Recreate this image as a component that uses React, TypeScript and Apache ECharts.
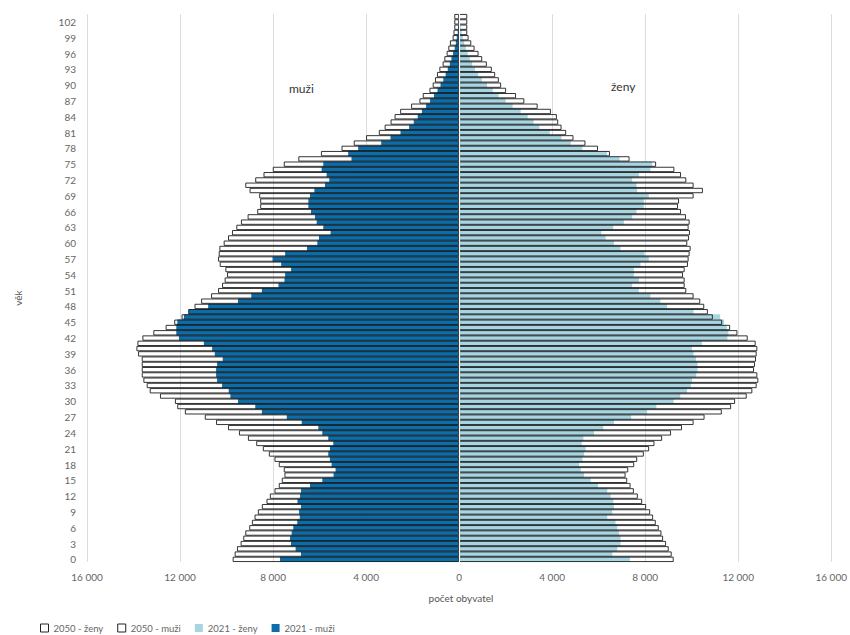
import React, { useEffect, useRef } from "react";
import * as echarts from "echarts";

// age categories 0..103 (labels shown every 3rd)
const ages: string[] = Array.from({ length: 104 }, (_, i) => String(i));

// 2050 projection - men (left)
const men2050: number[] = [
  9735, 9650, 9550, 9393, 9279, 9193, 9022, 8908, 8794, 8651,
  8480, 8280, 8137, 7937, 7752, 7624, 7509, 7538, 7752, 7937,
  8180, 8437, 8722, 9079, 9464, 9935, 10449, 10934, 11790, 12119,
  12218, 12861, 13303, 13431, 13574, 13645, 13645, 13645, 13645, 13802,
  13874, 13831, 13617, 13146, 12618, 12247, 11933, 11648, 11376, 11091,
  10663, 10363, 10192, 10080, 9978, 10050, 10292, 10363, 10335, 10306,
  10121, 9935, 9764, 9579, 9379, 9093, 8679, 8551, 8551, 8594,
  9008, 9193, 8765, 8409, 8009, 7538, 6910, 5940, 5055, 4530,
  4000, 3450, 3200, 2945, 2773, 2534, 2063, 1704, 1562, 1275,
  1134, 1036, 950, 848, 706, 633, 535, 462, 393, 278,
  240, 205, 205, 205,
];

// 2021 - men (left)
const men2021: number[] = [
  7700, 6800, 7030, 7230, 7270, 7200, 7130, 6960, 6850, 6880,
  6800, 6950, 6839, 6796, 6411, 5883, 5398, 5312, 5483, 5555,
  5626, 5555, 5412, 5626, 5883, 6054, 6767, 7410, 8480, 8765,
  9507, 9835, 9907, 10192, 10406, 10449, 10449, 10406, 10164, 10506,
  10620, 10977, 12047, 12161, 12161, 12119, 11833, 11619, 10791, 9507,
  8936, 8480, 7766, 7509, 7481, 7224, 7652, 8023, 7481, 6539,
  6097, 6025, 5526, 5840, 6125, 6197, 6368, 6482, 6482, 6411,
  6225, 5768, 5583, 5697, 5911, 5840, 4627, 4770, 4341, 3350,
  2950, 2520, 2150, 1950, 1780, 1600, 1420, 1250, 1080, 930,
  800, 680, 580, 490, 400, 330, 260, 190, 140, 100,
  60, 40, 20, 10,
];

// 2050 projection - women (right)
const women2050: number[] = [
  9225, 9139, 9011, 8897, 8769, 8697, 8583, 8455, 8340, 8212,
  8041, 7870, 7684, 7513, 7370, 7227, 7156, 7270, 7527, 7656,
  7941, 8169, 8398, 8726, 9111, 9582, 10081, 10552, 11294, 11694,
  11865, 12364, 12607, 12793, 12864, 12821, 12679, 12721, 12764, 12793,
  12821, 12750, 12407, 11965, 11651, 11309, 10909, 10695, 10538, 10367,
  10081, 9767, 9696, 9696, 9625, 9696, 9839, 9867, 9910, 9953,
  9810, 9882, 9924, 9867, 9910, 9753, 9540, 9411, 9454, 10081,
  10481, 10081, 9767, 9540, 9254, 8469, 7327, 6485, 5971, 5430,
  4916, 4602, 4402, 4259, 4202, 3945, 3375, 2804, 2447, 2019,
  1805, 1705, 1548, 1405, 1191, 991, 834, 663, 521, 406,
  349, 349, 349, 349,
];

// 2021 - women (right)
const women2021: number[] = [
  7342, 6585, 6799, 6942, 6942, 6870, 6799, 6728, 6371, 6585,
  6657, 6628, 6514, 6371, 5972, 5658, 5372, 5230, 5158, 5301,
  5372, 5444, 5272, 5344, 5800, 6200, 6657, 7399, 8084, 8483,
  9225, 9510, 9796, 9967, 10010, 10196, 10253, 10253, 10181, 10081,
  10010, 10438, 11537, 11580, 11508, 11394, 11223, 10081, 8940, 8654,
  8226, 7727, 7441, 7727, 7513, 7513, 7798, 8155, 7969, 6942,
  6657, 6300, 6114, 6628, 7084, 7441, 7627, 7941, 7941, 8155,
  7655, 7627, 7441, 7727, 8226, 8300, 6900, 6350, 5301, 4800,
  4400, 3900, 3450, 3200, 2950, 2650, 2300, 2000, 1700, 1450,
  1200, 980, 820, 680, 560, 460, 370, 290, 220, 160,
  110, 70, 40, 20,
];

const seriesNames = ["2050 - ženy", "2050 - muži", "2021 - ženy", "2021 - muži"];

const DARK = "#0c6dab";
const LIGHT = "#a7d6e2";
const OUTLINE = "#1e1e1e";
const FONT = "Lato, 'Open Sans', sans-serif";

const fmt = (v: number) =>
  String(Math.abs(v)).replace(/\B(?=(\d{3})+(?!\d))/g, " ");

export default function App() {
  const ref = useRef<HTMLDivElement>(null);

  useEffect(() => {
    if (!ref.current) return;
    const chart = echarts.init(ref.current, undefined, { renderer: "svg" });
    const outlineStyle = {
      color: "rgba(255,255,255,0)",
      borderColor: OUTLINE,
      borderWidth: 0.9,
    };
    chart.setOption({
      animation: false,
      backgroundColor: "#ffffff",
      textStyle: { fontFamily: FONT },
      grid: { left: 87, right: 14, top: 14, bottom: 73 },
      xAxis: {
        type: "value",
        min: -16000,
        max: 16000,
        interval: 4000,
        axisLine: { show: false },
        axisTick: { show: false },
        axisLabel: {
          formatter: (v: number) => fmt(v),
          color: "#666",
          fontSize: 10,
          fontFamily: FONT,
          margin: 10,
          showMinLabel: true,
          showMaxLabel: true,
        },
        splitLine: { show: true, lineStyle: { color: "#dcdcdc", width: 1 } },
      },
      yAxis: {
        type: "category",
        data: ages,
        axisLine: { show: false, onZero: false },
        axisTick: { show: false },
        axisLabel: {
          interval: 2,
          color: "#666",
          fontSize: 10,
          fontFamily: FONT,
          margin: 11,
        },
        splitLine: { show: false },
      },
      legend: {
        left: 40,
        top: 623,
        padding: 0,
        itemWidth: 8,
        itemHeight: 8,
        itemGap: 14,
        icon: "rect",
        textStyle: { color: "#666", fontSize: 9.5, fontFamily: FONT },
        data: [
          { name: seriesNames[0], itemStyle: { color: "#fff", borderColor: "#222", borderWidth: 1 } },
          { name: seriesNames[1], itemStyle: { color: "#fff", borderColor: "#222", borderWidth: 1 } },
          { name: seriesNames[2], itemStyle: { color: LIGHT } },
          { name: seriesNames[3], itemStyle: { color: DARK } },
        ],
      },
      series: [
        {
          name: seriesNames[3],
          type: "bar",
          stack: "y2021",
          barGap: "-100%",
          barCategoryGap: "0%",
          itemStyle: { color: DARK },
          data: men2021.map((v) => -v),
        },
        {
          name: seriesNames[2],
          type: "bar",
          stack: "y2021",
          barGap: "-100%",
          barCategoryGap: "0%",
          itemStyle: { color: LIGHT },
          data: women2021,
        },
        {
          name: seriesNames[1],
          type: "bar",
          stack: "y2050",
          barGap: "-100%",
          barCategoryGap: "0%",
          itemStyle: outlineStyle,
          data: men2050.map((v) => -v),
        },
        {
          name: seriesNames[0],
          type: "bar",
          stack: "y2050",
          barGap: "-100%",
          barCategoryGap: "0%",
          itemStyle: outlineStyle,
          data: women2050,
          markLine: {
            silent: true,
            symbol: "none",
            label: { show: false },
            lineStyle: { color: "#ffffff", width: 1.2, type: "solid" },
            data: [{ xAxis: 0 }],
          },
        },
      ],
      graphic: [
        {
          type: "text",
          left: 289,
          top: 82,
          style: { text: "muži", fontSize: 12, fill: "#333", fontFamily: FONT },
        },
        {
          type: "text",
          left: 611,
          top: 80,
          style: { text: "ženy", fontSize: 12, fill: "#333", fontFamily: FONT },
        },
        {
          type: "text",
          x: 461,
          y: 598,
          style: {
            text: "počet obyvatel",
            fontSize: 10,
            fill: "#555",
            fontFamily: FONT,
            align: "center",
            verticalAlign: "middle",
          },
        },
        {
          type: "text",
          x: 18,
          y: 298,
          rotation: Math.PI / 2,
          style: {
            text: "věk",
            fontSize: 10,
            fill: "#555",
            fontFamily: FONT,
            align: "center",
            verticalAlign: "middle",
          },
        },
      ],
    });
    return () => chart.dispose();
  }, []);

  return (
    <div
      ref={ref}
      style={{ position: "fixed", left: 0, top: 0, width: 850, height: 635 }}
    />
  );
}
